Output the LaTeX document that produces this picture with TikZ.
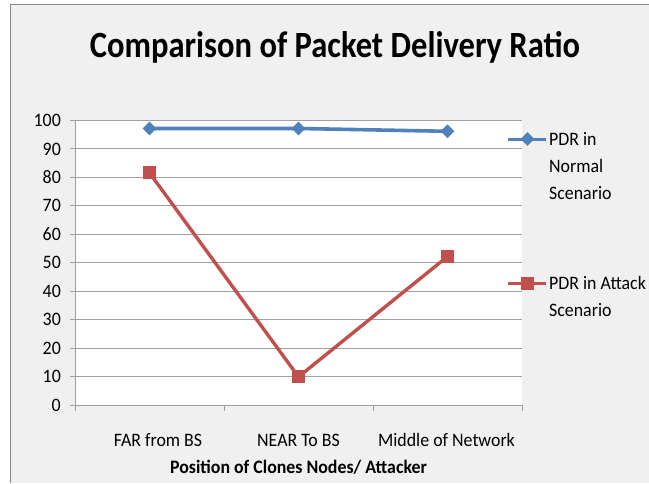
\documentclass[tikz,border=0pt]{standalone}
\usepackage{fontspec}
\setmainfont{Carlito}[FakeStretch=0.94]
\newfontfamily\titlefont{Carlito}[FakeStretch=0.88]
\usetikzlibrary{shapes.geometric}
\definecolor{chartbg}{HTML}{F0F0F0}
\definecolor{frame}{HTML}{888888}
\definecolor{grid}{HTML}{A0A0A0}
\definecolor{normalblue}{HTML}{4F81BD}
\definecolor{attackred}{HTML}{C0504D}
\tikzset{
  ticklabel/.style={font=\fontsize{19}{19}\selectfont, anchor=east, inner sep=0pt},
  catlabel/.style={font=\fontsize{19}{19}\selectfont, anchor=center, inner sep=0pt},
  legendtext/.style={font=\fontsize{19}{19}\selectfont, anchor=base west, inner sep=0pt},
  bluemark/.style={diamond, fill=normalblue, inner sep=0pt, minimum width=14pt, minimum height=14pt},
  redmark/.style={rectangle, fill=attackred, inner sep=0pt, minimum size=13pt},
  blueline/.style={normalblue, line width=3.6pt},
  redline/.style={attackred, line width=3.4pt},
}
\begin{document}
\begin{tikzpicture}[x=1pt,y=-1pt]
\useasboundingbox (0,0) rectangle (649,483);
\fill[white] (0,0) rectangle (649,483);
% chart area
\fill[chartbg] (10.5,4.5) rectangle (649,483);
\draw[frame, line width=1.8pt] (10.5,483) -- (10.5,4.5) -- (649,4.5);
% title
\node[font=\titlefont\bfseries\fontsize{37}{37}\selectfont, inner sep=0pt] (title) at (335,47) {Comparison of Packet Delivery Ratio};
% plot area
\fill[white] (75,120.5) rectangle (522,405);
\foreach \k in {1,...,10} {
  \draw[grid, line width=1pt] (70,405-28.45*\k) -- (522,405-28.45*\k);
}
\foreach \k in {0,...,10} {
  \pgfmathtruncatemacro{\v}{10*\k}
  \node[ticklabel] (yl\k) at (61,405-28.45*\k) {\v};
}
\draw[grid, line width=1pt] (75,120.5) -- (75,405);
\draw[grid, line width=1pt] (70,405) -- (522,405);
\foreach \x in {75,224,373,522} {
  \draw[grid, line width=1pt] (\x,405) -- (\x,411);
}
% category labels and axis title
\node[catlabel] (c1) at (158,440) {FAR from BS};
\node[catlabel] (c2) at (298.5,440) {NEAR To BS};
\node[catlabel] (c3) at (446.5,440) {Middle of Network};
\node[font=\bfseries\fontsize{19}{19}\selectfont, inner sep=0pt] (xtitle) at (298.5,467) {Position of Clones Nodes/ Attacker};
% data points
\coordinate (n1) at (149.5,405-28.45*9.72);
\coordinate (n2) at (298.5,405-28.45*9.72);
\coordinate (n3) at (447.5,405-28.45*9.62);
\coordinate (a1) at (149.5,405-28.45*8.16);
\coordinate (a2) at (298.5,405-28.45*0.99);
\coordinate (a3) at (447.5,405-28.45*5.22);
\draw[redline] (a1) -- (a2) -- (a3);
\draw[blueline] (n1) -- (n2) -- (n3);
\foreach \p in {n1,n2,n3} \node[bluemark] at (\p) {};
\foreach \p in {a1,a2,a3} \node[redmark] at (\p) {};
% legend
\coordinate (lb1) at (508,139);
\coordinate (lb2) at (546,139);
\draw[normalblue, line width=3pt] (lb1) -- (lb2);
\node[bluemark] (lbm) at (527.5,139) {};
\node[legendtext] (lbt1) at (549,145.5) {PDR in};
\node[legendtext] (lbt2) at (549,172) {Normal};
\node[legendtext] (lbt3) at (549,199) {Scenario};
\coordinate (lr1) at (508,283);
\coordinate (lr2) at (546,283);
\draw[attackred, line width=3pt] (lr1) -- (lr2);
\node[redmark] (lrm) at (527.5,283) {};
\node[legendtext] (lrt1) at (549,289.5) {PDR in Attack};
\node[legendtext] (lrt2) at (549,316) {Scenario};
\end{tikzpicture}
\end{document}
